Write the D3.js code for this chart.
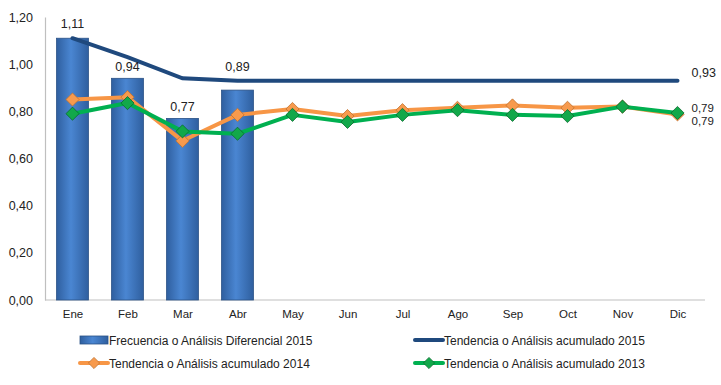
<!DOCTYPE html>
<html lang="es">
<head>
<meta charset="utf-8">
<script src="https://cdn.jsdelivr.net/npm/d3@7"></script>
<style type="text/css">
body { margin: 0; background: #fff; }
text { font-family: "Liberation Sans", Arial, sans-serif; fill: #222; }
</style>
</head>
<body>
<script type="text/javascript">

// data
var months = ["Ene","Feb","Mar","Abr","May","Jun","Jul","Ago","Sep","Oct","Nov","Dic"];
var freq2015 = [1.11, 0.94, 0.77, 0.89];
var acum2015 = [1.11, 1.03, 0.94, 0.93, 0.93, 0.93, 0.93, 0.93, 0.93, 0.93, 0.93, 0.93];
var acum2014 = [0.85, 0.86, 0.675, 0.785, 0.81, 0.78, 0.805, 0.815, 0.825, 0.815, 0.82, 0.787];
var acum2013 = [0.79, 0.835, 0.715, 0.705, 0.785, 0.755, 0.785, 0.805, 0.785, 0.78, 0.82, 0.793];
var yTicks = [0, 0.2, 0.4, 0.6, 0.8, 1.0, 1.2];
var seriesNames = ["Frecuencia o Análisis Diferencial 2015", "Tendencia o Análisis acumulado 2015",
                   "Tendencia o Análisis acumulado 2014", "Tendencia o Análisis acumulado 2013"];

var width = 721, height = 385;
var fmt = function(v) { return v.toFixed(2).replace(".", ","); };

var svg = d3.select("body").append("svg")
	.attr("width", width)
	.attr("height", height);

var defs = svg.append("defs");
var grad = defs.append("linearGradient").attr("id", "barGrad")
	.attr("x1", "0%").attr("x2", "100%").attr("y1", "0%").attr("y2", "0%");
grad.append("stop").attr("offset", "0%").attr("stop-color", "#2f5f9f");
grad.append("stop").attr("offset", "45%").attr("stop-color", "#4a86d2");
grad.append("stop").attr("offset", "100%").attr("stop-color", "#2f5f9f");

var x = d3.scaleBand().domain(months).range([45, 705]).paddingInner(0.42).paddingOuter(0.21);
var xc = function(m) { return x(m) + x.bandwidth() / 2; };
var y = d3.scaleLinear().domain([0, 1.2]).range([300, 17]);

// axes
var yAxis = svg.append("g").attr("transform", "translate(45,0)")
	.call(d3.axisLeft(y).tickValues(yTicks).tickFormat(fmt).tickSize(0).tickPadding(12));
yAxis.select(".domain").attr("stroke", "#bfbfbf").attr("stroke-width", 1.2);
yAxis.selectAll("text").style("font-size", "12.5px").attr("fill", "#222");

var xAxis = svg.append("g").attr("transform", "translate(0,300)")
	.call(d3.axisBottom(d3.scalePoint().domain(months).range([xc("Ene"), xc("Dic")]))
		.tickSize(0).tickPadding(10));
xAxis.select(".domain").remove();
xAxis.append("line").attr("x1", 45).attr("x2", 705).attr("stroke", "#bfbfbf").attr("stroke-width", 1.2);
xAxis.selectAll("text").style("font-size", "11.5px").attr("fill", "#222");

// bars
svg.selectAll("rect.bar")
	.data(freq2015)
	.enter().append("rect")
	.attr("class", "bar")
	.attr("x", function(d, i) { return x(months[i]); })
	.attr("width", x.bandwidth())
	.attr("y", function(d) { return y(d); })
	.attr("height", function(d) { return y(0) - y(d); })
	.attr("fill", "url(#barGrad)")
	.attr("stroke", "#2a5286")
	.attr("stroke-width", 0.8);

var line = d3.line()
	.x(function(d, i) { return xc(months[i]); })
	.y(function(d) { return y(d); });

function diamond(g, data, fill, stroke) {
	g.selectAll("path.mk")
		.data(data)
		.enter().append("path")
		.attr("class", "mk")
		.attr("d", d3.symbol(d3.symbolDiamond2, 110)())
		.attr("transform", function(d, i) { return "translate(" + xc(months[i]) + "," + y(d) + ")"; })
		.attr("fill", fill)
		.attr("stroke", stroke)
		.attr("stroke-width", 0.8);
}

// 2015 accumulated
svg.append("path").datum(acum2015)
	.attr("d", line).attr("fill", "none")
	.attr("stroke", "#1f497d").attr("stroke-width", 4).attr("stroke-linecap", "round");

// 2014
var g14 = svg.append("g");
g14.append("path").datum(acum2014)
	.attr("d", line).attr("fill", "none")
	.attr("stroke", "#f79646").attr("stroke-width", 4).attr("stroke-linejoin", "round");
diamond(g14, acum2014, "#f79a4d", "#c0712f");

// 2013
var g13 = svg.append("g");
g13.append("path").datum(acum2013)
	.attr("d", line).attr("fill", "none")
	.attr("stroke", "#00b050").attr("stroke-width", 4).attr("stroke-linejoin", "round");
diamond(g13, acum2013, "#12a84a", "#0a6b2e");

// bar labels
svg.selectAll("text.blab")
	.data(freq2015)
	.enter().append("text")
	.attr("class", "blab")
	.attr("x", function(d, i) { return xc(months[i]); })
	.attr("y", function(d, i) {
		var yb = y(d), yl = y(acum2015[i]);
		return Math.abs(yb - yl) < 20 ? Math.min(yb, yl) - 10 : yb - 7;
	})
	.attr("text-anchor", "middle")
	.style("font-size", "12.5px")
	.text(fmt);

// end labels
var last = months.length - 1;
var endLabels = [
	{v: acum2015[last], dy: -4, fs: "12.5px"},
	{v: acum2013[last], dy: -1, fs: "11.5px"},
	{v: acum2014[last], dy: 11, fs: "11.5px"}
];
svg.selectAll("text.elab")
	.data(endLabels)
	.enter().append("text")
	.attr("class", "elab")
	.attr("x", xc("Dic") + 14)
	.attr("y", function(d) { return y(d.v) + d.dy; })
	.style("font-size", function(d) { return d.fs; })
	.text(function(d) { return fmt(d.v); });

// legend
var legend = svg.append("g").style("font-size", "12px");
var legPos = [[80, 340], [415, 340], [80, 363], [415, 363]];
var legColor = [null, "#1f497d", "#f79646", "#00b050"];
seriesNames.forEach(function(name, i) {
	var lg = legend.append("g").attr("transform", "translate(" + legPos[i][0] + "," + legPos[i][1] + ")");
	if (i === 0) {
		lg.append("rect").attr("x", 0).attr("y", -4).attr("width", 28).attr("height", 8)
			.attr("fill", "url(#barGrad)").attr("stroke", "#2a5286").attr("stroke-width", 0.8);
	} else {
		lg.append("line").attr("x1", 0).attr("x2", 28)
			.attr("stroke", legColor[i]).attr("stroke-width", 4).attr("stroke-linecap", "round");
		if (i > 1) {
			lg.append("path").attr("d", d3.symbol(d3.symbolDiamond2, 80)())
				.attr("transform", "translate(14,0)")
				.attr("fill", i === 2 ? "#f79a4d" : "#12a84a")
				.attr("stroke", i === 2 ? "#c0712f" : "#0a6b2e").attr("stroke-width", 0.8);
		}
	}
	lg.append("text").attr("x", 29).attr("y", 4.5).text(name);
});

</script>
</body>
</html>
